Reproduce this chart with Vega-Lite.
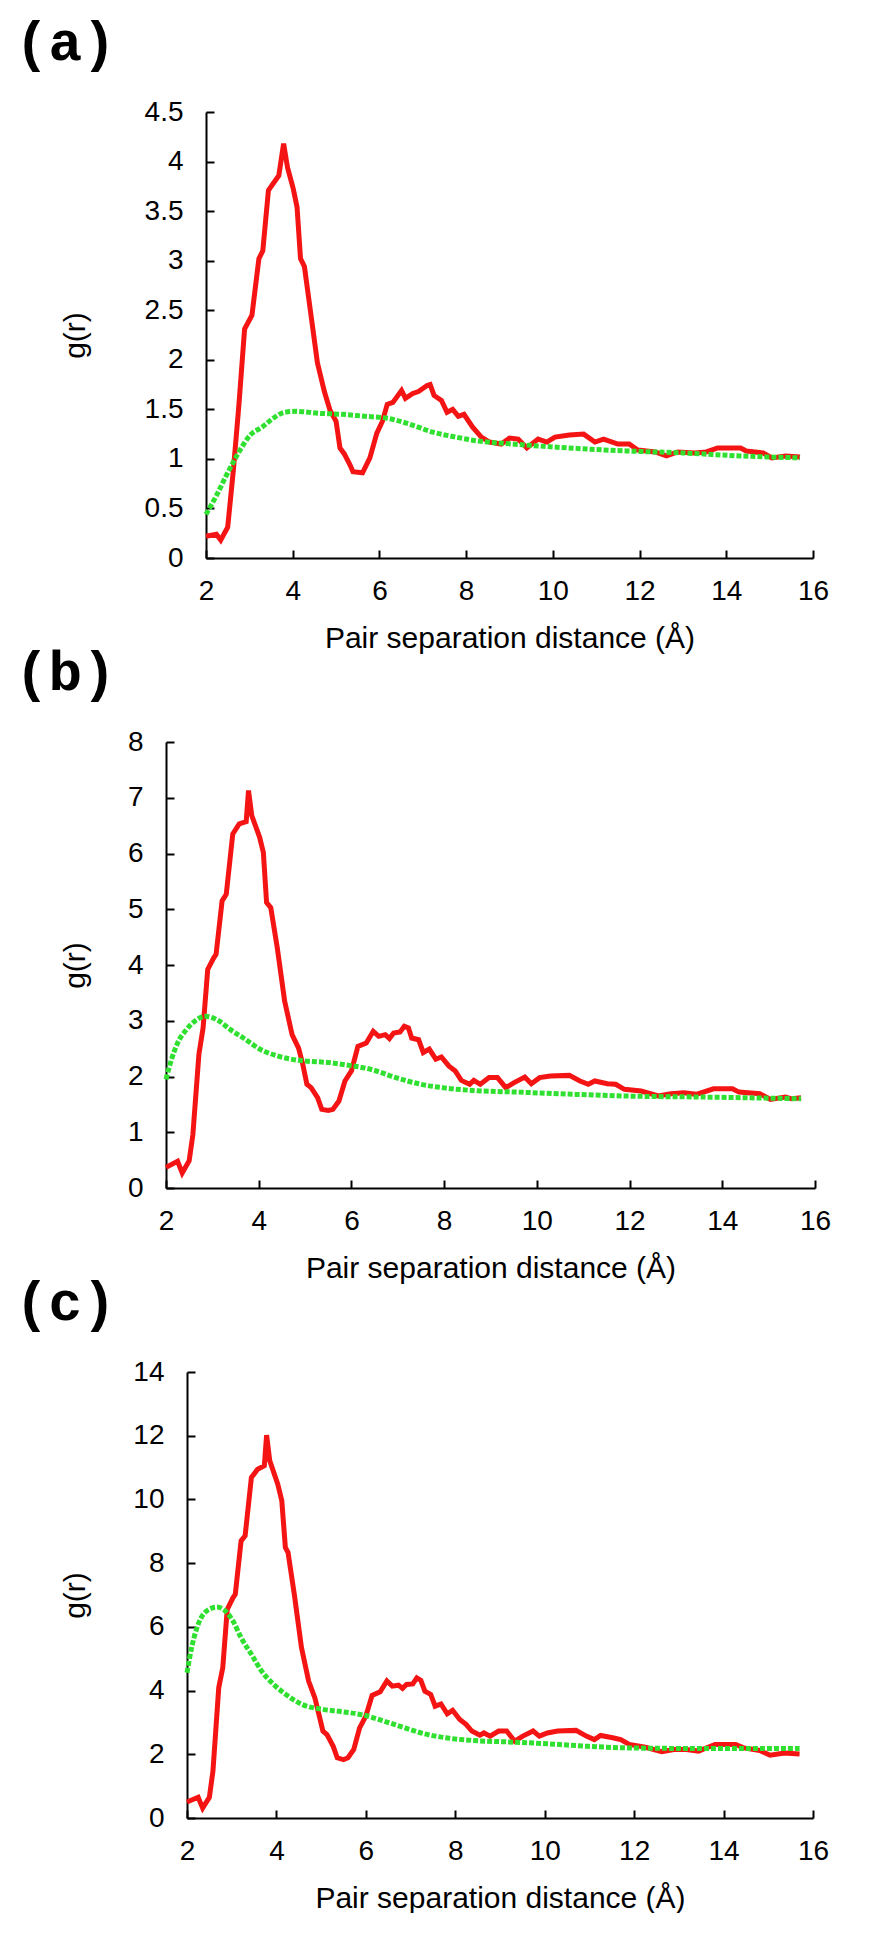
{
  "$schema": "https://vega.github.io/schema/vega-lite/v6.json",
  "background": "white",
  "padding": {"left": 15, "top": 15, "right": 0, "bottom": 0},
  "columns": 1,
  "align": "none",
  "spacing": -8,
  "config": {
    "view": {"stroke": null},
    "axis": {
      "grid": false,
      "domainColor": "black",
      "domainWidth": 2,
      "tickColor": "black",
      "tickWidth": 2,
      "tickSize": -8,
      "labelFont": "Liberation Sans",
      "labelFontSize": 28,
      "labelColor": "black",
      "labelFlush": false,
      "labelOverlap": false,
      "titleFont": "Liberation Sans",
      "titleFontSize": 30,
      "titleFontWeight": "normal",
      "titleColor": "black"
    },
    "axisX": {"titlePadding": 18, "labelPadding": 27},
    "axisY": {"labelPadding": 31},
    "title": {
      "font": "Liberation Mono",
      "fontSize": 56,
      "fontWeight": "bold",
      "anchor": "start",
      "color": "black",
      "dx": -45,
      "offset": 26
    }
  },
  "concat": [
    {
      "title": "(a)",
      "width": 647,
      "height": 446,
      "encoding": {
        "x": {"field": "r", "type": "quantitative", "scale": {"domain": [2, 16], "range": [40, 647], "nice": false, "zero": false},
          "axis": {"title": "Pair separation distance (Å)", "values": [2, 4, 6, 8, 10, 12, 14, 16], "format": "d"}},
        "y": {"field": "g", "type": "quantitative", "scale": {"domain": [0, 4.5], "nice": false},
          "axis": {"title": "g(r)", "offset": -40, "titleX": -116, "values": [0, 0.5, 1, 1.5, 2, 2.5, 3, 3.5, 4, 4.5], "format": "~g"}}
      },
      "layer": [
        {
          "data": {"values": [
            {"r": 2.0, "g": 0.22}, {"r": 2.24, "g": 0.24}, {"r": 2.34, "g": 0.18}, {"r": 2.5, "g": 0.31}, {"r": 2.63, "g": 0.88},
            {"r": 2.76, "g": 1.55}, {"r": 2.89, "g": 2.31}, {"r": 3.06, "g": 2.45}, {"r": 3.22, "g": 3.02}, {"r": 3.31, "g": 3.1},
            {"r": 3.44, "g": 3.71}, {"r": 3.68, "g": 3.86}, {"r": 3.79, "g": 4.18}, {"r": 3.88, "g": 3.94}, {"r": 4.01, "g": 3.73},
            {"r": 4.1, "g": 3.54}, {"r": 4.18, "g": 3.02}, {"r": 4.27, "g": 2.94}, {"r": 4.4, "g": 2.52}, {"r": 4.57, "g": 1.97},
            {"r": 4.73, "g": 1.68}, {"r": 4.86, "g": 1.49}, {"r": 5.0, "g": 1.38}, {"r": 5.09, "g": 1.11}, {"r": 5.19, "g": 1.05},
            {"r": 5.32, "g": 0.94}, {"r": 5.39, "g": 0.87}, {"r": 5.61, "g": 0.86}, {"r": 5.78, "g": 1.01}, {"r": 5.94, "g": 1.26},
            {"r": 6.07, "g": 1.38}, {"r": 6.18, "g": 1.55}, {"r": 6.31, "g": 1.57}, {"r": 6.51, "g": 1.69}, {"r": 6.6, "g": 1.61},
            {"r": 6.77, "g": 1.66}, {"r": 6.9, "g": 1.68}, {"r": 7.1, "g": 1.74}, {"r": 7.17, "g": 1.75}, {"r": 7.26, "g": 1.64},
            {"r": 7.43, "g": 1.59}, {"r": 7.56, "g": 1.47}, {"r": 7.69, "g": 1.5}, {"r": 7.82, "g": 1.43}, {"r": 7.95, "g": 1.45},
            {"r": 8.15, "g": 1.32}, {"r": 8.35, "g": 1.22}, {"r": 8.54, "g": 1.17}, {"r": 8.81, "g": 1.15}, {"r": 9.0, "g": 1.21},
            {"r": 9.2, "g": 1.2}, {"r": 9.4, "g": 1.11}, {"r": 9.66, "g": 1.2}, {"r": 9.86, "g": 1.17}, {"r": 10.05, "g": 1.22},
            {"r": 10.38, "g": 1.24}, {"r": 10.71, "g": 1.25}, {"r": 10.97, "g": 1.17}, {"r": 11.17, "g": 1.2}, {"r": 11.5, "g": 1.15},
            {"r": 11.76, "g": 1.15}, {"r": 11.96, "g": 1.09}, {"r": 12.36, "g": 1.07}, {"r": 12.62, "g": 1.03}, {"r": 12.88, "g": 1.07},
            {"r": 13.27, "g": 1.06}, {"r": 13.54, "g": 1.07}, {"r": 13.8, "g": 1.11}, {"r": 14.33, "g": 1.11}, {"r": 14.46, "g": 1.08},
            {"r": 14.85, "g": 1.06}, {"r": 15.05, "g": 1.01}, {"r": 15.37, "g": 1.03}, {"r": 15.7, "g": 1.02}
          ]},
          "mark": {"type": "line", "color": "#f41414", "strokeWidth": 5}
        },
        {
          "data": {"values": [
            {"r": 2.0, "g": 0.44}, {"r": 2.24, "g": 0.63}, {"r": 2.5, "g": 0.86}, {"r": 2.76, "g": 1.07}, {"r": 3.02, "g": 1.24},
            {"r": 3.29, "g": 1.32}, {"r": 3.55, "g": 1.41}, {"r": 3.81, "g": 1.47}, {"r": 4.08, "g": 1.48}, {"r": 4.6, "g": 1.46},
            {"r": 5.13, "g": 1.45}, {"r": 5.65, "g": 1.43}, {"r": 6.18, "g": 1.41}, {"r": 6.7, "g": 1.35}, {"r": 7.23, "g": 1.27},
            {"r": 7.76, "g": 1.22}, {"r": 8.28, "g": 1.18}, {"r": 9.07, "g": 1.15}, {"r": 10.38, "g": 1.11}, {"r": 11.7, "g": 1.08},
            {"r": 13.0, "g": 1.06}, {"r": 14.33, "g": 1.03}, {"r": 15.7, "g": 1.01}
          ]},
          "mark": {"type": "line", "color": "#30e030", "strokeWidth": 5, "strokeDash": [5, 2], "interpolate": "monotone"}
        }
      ]
    },
    {
      "title": "(b)",
      "width": 649,
      "height": 446,
      "encoding": {
        "x": {"field": "r", "type": "quantitative", "scale": {"domain": [2, 16], "nice": false, "zero": false},
          "axis": {"title": "Pair separation distance (Å)", "values": [2, 4, 6, 8, 10, 12, 14, 16], "format": "d"}},
        "y": {"field": "g", "type": "quantitative", "scale": {"domain": [0, 8], "nice": false},
          "axis": {"title": "g(r)", "titleX": -76, "values": [0, 1, 2, 3, 4, 5, 6, 7, 8], "format": "d"}}
      },
      "layer": [
        {
          "data": {"values": [
            {"r": 2.0, "g": 0.37}, {"r": 2.25, "g": 0.48}, {"r": 2.35, "g": 0.27}, {"r": 2.5, "g": 0.49}, {"r": 2.58, "g": 0.96},
            {"r": 2.71, "g": 2.4}, {"r": 2.8, "g": 2.87}, {"r": 2.9, "g": 3.92}, {"r": 3.03, "g": 4.13}, {"r": 3.08, "g": 4.19},
            {"r": 3.21, "g": 5.15}, {"r": 3.3, "g": 5.27}, {"r": 3.44, "g": 6.35}, {"r": 3.58, "g": 6.53}, {"r": 3.73, "g": 6.57},
            {"r": 3.78, "g": 7.13}, {"r": 3.85, "g": 6.68}, {"r": 4.02, "g": 6.29}, {"r": 4.1, "g": 6.02}, {"r": 4.17, "g": 5.12},
            {"r": 4.26, "g": 5.03}, {"r": 4.4, "g": 4.31}, {"r": 4.56, "g": 3.35}, {"r": 4.72, "g": 2.75}, {"r": 4.86, "g": 2.51},
            {"r": 4.95, "g": 2.22}, {"r": 5.04, "g": 1.86}, {"r": 5.13, "g": 1.8}, {"r": 5.27, "g": 1.62}, {"r": 5.36, "g": 1.41},
            {"r": 5.5, "g": 1.39}, {"r": 5.6, "g": 1.41}, {"r": 5.73, "g": 1.56}, {"r": 5.86, "g": 1.92}, {"r": 6.0, "g": 2.1},
            {"r": 6.14, "g": 2.54}, {"r": 6.32, "g": 2.6}, {"r": 6.47, "g": 2.81}, {"r": 6.59, "g": 2.72}, {"r": 6.73, "g": 2.75},
            {"r": 6.82, "g": 2.68}, {"r": 6.91, "g": 2.78}, {"r": 7.05, "g": 2.8}, {"r": 7.14, "g": 2.9}, {"r": 7.23, "g": 2.87},
            {"r": 7.3, "g": 2.69}, {"r": 7.45, "g": 2.66}, {"r": 7.55, "g": 2.43}, {"r": 7.68, "g": 2.49}, {"r": 7.82, "g": 2.31},
            {"r": 7.94, "g": 2.35}, {"r": 8.1, "g": 2.19}, {"r": 8.24, "g": 2.1}, {"r": 8.37, "g": 1.93}, {"r": 8.55, "g": 1.86},
            {"r": 8.64, "g": 1.93}, {"r": 8.78, "g": 1.86}, {"r": 8.97, "g": 1.98}, {"r": 9.15, "g": 1.98}, {"r": 9.33, "g": 1.8},
            {"r": 9.51, "g": 1.89}, {"r": 9.74, "g": 1.99}, {"r": 9.88, "g": 1.87}, {"r": 10.06, "g": 1.98}, {"r": 10.29, "g": 2.01},
            {"r": 10.7, "g": 2.02}, {"r": 10.93, "g": 1.92}, {"r": 11.11, "g": 1.86}, {"r": 11.25, "g": 1.92}, {"r": 11.52, "g": 1.87},
            {"r": 11.7, "g": 1.86}, {"r": 11.89, "g": 1.77}, {"r": 12.25, "g": 1.74}, {"r": 12.62, "g": 1.65}, {"r": 12.89, "g": 1.69},
            {"r": 13.17, "g": 1.71}, {"r": 13.44, "g": 1.68}, {"r": 13.81, "g": 1.78}, {"r": 14.22, "g": 1.78}, {"r": 14.36, "g": 1.72},
            {"r": 14.81, "g": 1.69}, {"r": 15.04, "g": 1.59}, {"r": 15.36, "g": 1.63}, {"r": 15.5, "g": 1.6}, {"r": 15.7, "g": 1.62}
          ]},
          "mark": {"type": "line", "color": "#f41414", "strokeWidth": 5}
        },
        {
          "data": {"values": [
            {"r": 2.0, "g": 1.95}, {"r": 2.12, "g": 2.31}, {"r": 2.25, "g": 2.6}, {"r": 2.44, "g": 2.84}, {"r": 2.62, "g": 2.99},
            {"r": 2.84, "g": 3.08}, {"r": 3.12, "g": 3.01}, {"r": 3.39, "g": 2.84}, {"r": 3.67, "g": 2.69}, {"r": 4.03, "g": 2.49},
            {"r": 4.4, "g": 2.37}, {"r": 4.86, "g": 2.29}, {"r": 5.5, "g": 2.25}, {"r": 5.95, "g": 2.2}, {"r": 6.41, "g": 2.13},
            {"r": 6.96, "g": 1.98}, {"r": 7.5, "g": 1.86}, {"r": 7.96, "g": 1.8}, {"r": 8.6, "g": 1.75}, {"r": 9.6, "g": 1.72},
            {"r": 10.5, "g": 1.69}, {"r": 11.9, "g": 1.65}, {"r": 13.7, "g": 1.63}, {"r": 15.7, "g": 1.6}
          ]},
          "mark": {"type": "line", "color": "#30e030", "strokeWidth": 5, "strokeDash": [5, 2], "interpolate": "monotone"}
        }
      ]
    },
    {
      "title": "(c)",
      "width": 647,
      "height": 446,
      "encoding": {
        "x": {"field": "r", "type": "quantitative", "scale": {"domain": [2, 16], "range": [21, 647], "nice": false, "zero": false},
          "axis": {"title": "Pair separation distance (Å)", "values": [2, 4, 6, 8, 10, 12, 14, 16], "format": "d"}},
        "y": {"field": "g", "type": "quantitative", "scale": {"domain": [0, 14], "nice": false},
          "axis": {"title": "g(r)", "offset": -21, "titleX": -97, "values": [0, 2, 4, 6, 8, 10, 12, 14], "format": "d"}}
      },
      "layer": [
        {
          "data": {"values": [
            {"r": 2.0, "g": 0.5}, {"r": 2.25, "g": 0.65}, {"r": 2.35, "g": 0.31}, {"r": 2.5, "g": 0.65}, {"r": 2.58, "g": 1.47},
            {"r": 2.71, "g": 4.09}, {"r": 2.8, "g": 4.72}, {"r": 2.9, "g": 6.55}, {"r": 3.03, "g": 6.92}, {"r": 3.08, "g": 7.02},
            {"r": 3.21, "g": 8.7}, {"r": 3.3, "g": 8.86}, {"r": 3.44, "g": 10.69}, {"r": 3.58, "g": 10.95}, {"r": 3.73, "g": 11.06},
            {"r": 3.78, "g": 12.02}, {"r": 3.85, "g": 11.22}, {"r": 4.03, "g": 10.48}, {"r": 4.12, "g": 9.96}, {"r": 4.2, "g": 8.49},
            {"r": 4.26, "g": 8.33}, {"r": 4.4, "g": 7.02}, {"r": 4.56, "g": 5.35}, {"r": 4.72, "g": 4.3}, {"r": 4.86, "g": 3.77},
            {"r": 4.95, "g": 3.25}, {"r": 5.04, "g": 2.73}, {"r": 5.13, "g": 2.62}, {"r": 5.27, "g": 2.25}, {"r": 5.36, "g": 1.89},
            {"r": 5.5, "g": 1.83}, {"r": 5.6, "g": 1.89}, {"r": 5.73, "g": 2.15}, {"r": 5.86, "g": 2.83}, {"r": 6.0, "g": 3.2},
            {"r": 6.14, "g": 3.85}, {"r": 6.32, "g": 3.96}, {"r": 6.47, "g": 4.3}, {"r": 6.59, "g": 4.14}, {"r": 6.73, "g": 4.17},
            {"r": 6.82, "g": 4.07}, {"r": 6.91, "g": 4.19}, {"r": 7.05, "g": 4.21}, {"r": 7.14, "g": 4.4}, {"r": 7.23, "g": 4.32},
            {"r": 7.32, "g": 3.98}, {"r": 7.45, "g": 3.88}, {"r": 7.55, "g": 3.51}, {"r": 7.68, "g": 3.58}, {"r": 7.82, "g": 3.27},
            {"r": 7.94, "g": 3.38}, {"r": 8.1, "g": 3.09}, {"r": 8.24, "g": 2.94}, {"r": 8.37, "g": 2.73}, {"r": 8.55, "g": 2.6},
            {"r": 8.64, "g": 2.67}, {"r": 8.78, "g": 2.57}, {"r": 8.97, "g": 2.73}, {"r": 9.15, "g": 2.73}, {"r": 9.33, "g": 2.41},
            {"r": 9.51, "g": 2.57}, {"r": 9.74, "g": 2.73}, {"r": 9.88, "g": 2.57}, {"r": 10.06, "g": 2.67}, {"r": 10.29, "g": 2.73},
            {"r": 10.7, "g": 2.75}, {"r": 10.93, "g": 2.57}, {"r": 11.11, "g": 2.46}, {"r": 11.25, "g": 2.59}, {"r": 11.52, "g": 2.52},
            {"r": 11.7, "g": 2.46}, {"r": 11.89, "g": 2.31}, {"r": 12.25, "g": 2.22}, {"r": 12.62, "g": 2.08}, {"r": 12.89, "g": 2.15},
            {"r": 13.17, "g": 2.15}, {"r": 13.44, "g": 2.1}, {"r": 13.81, "g": 2.31}, {"r": 14.27, "g": 2.31}, {"r": 14.45, "g": 2.2},
            {"r": 14.81, "g": 2.12}, {"r": 15.04, "g": 1.97}, {"r": 15.36, "g": 2.04}, {"r": 15.7, "g": 2.01}
          ]},
          "mark": {"type": "line", "color": "#f41414", "strokeWidth": 5}
        },
        {
          "data": {"values": [
            {"r": 2.0, "g": 4.56}, {"r": 2.12, "g": 5.45}, {"r": 2.25, "g": 6.08}, {"r": 2.44, "g": 6.5}, {"r": 2.67, "g": 6.62},
            {"r": 2.84, "g": 6.52}, {"r": 3.03, "g": 6.18}, {"r": 3.21, "g": 5.66}, {"r": 3.44, "g": 5.14}, {"r": 3.67, "g": 4.61},
            {"r": 3.94, "g": 4.19}, {"r": 4.21, "g": 3.88}, {"r": 4.58, "g": 3.56}, {"r": 5.04, "g": 3.41}, {"r": 5.5, "g": 3.33},
            {"r": 5.95, "g": 3.23}, {"r": 6.41, "g": 3.04}, {"r": 6.87, "g": 2.83}, {"r": 7.32, "g": 2.64}, {"r": 7.78, "g": 2.52},
            {"r": 8.42, "g": 2.43}, {"r": 9.15, "g": 2.39}, {"r": 10.06, "g": 2.33}, {"r": 10.97, "g": 2.25}, {"r": 11.89, "g": 2.2},
            {"r": 13.7, "g": 2.18}, {"r": 15.7, "g": 2.18}
          ]},
          "mark": {"type": "line", "color": "#30e030", "strokeWidth": 5, "strokeDash": [5, 2], "interpolate": "monotone"}
        }
      ]
    }
  ]
}
